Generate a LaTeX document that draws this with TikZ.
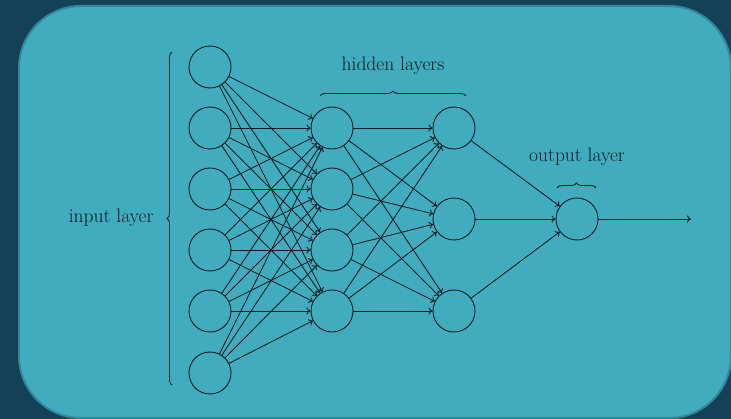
\documentclass[tikz,border=0pt]{standalone}
\usetikzlibrary{decorations.pathreplacing,arrows.meta}
\definecolor{bgdark}{RGB}{20,65,88}
\definecolor{panel}{RGB}{64,172,189}
\definecolor{panelborder}{RGB}{50,135,152}
\definecolor{ink}{RGB}{12,28,34}
\begin{document}
\begin{tikzpicture}[x=1pt,y=-1pt,
  neuron/.style={circle,draw=ink,line width=0.9pt,minimum size=42pt,inner sep=0pt},
  conn/.style={draw=ink,line width=0.85pt,-{To[length=4pt,width=7pt]}},
  lbl/.style={text=ink,font=\fontsize{19.5}{23}\selectfont},
  brc/.style={draw=ink,line width=0.85pt,decorate,decoration={brace,amplitude=5pt}}]
\fill[bgdark] (0,0) rectangle (731,419);
\useasboundingbox (0,0) rectangle (731,419);
\draw[panelborder,line width=2pt,fill=panel,rounded corners=62pt] (19,6) rectangle (731,418);
% input
\foreach \i/\y in {1/67,2/128,3/189,4/250,5/311,6/373}
  \node[neuron] (I\i) at (210,\y) {};
\foreach \i/\y in {1/128,2/189,3/250,4/311}
  \node[neuron] (A\i) at (332,\y) {};
\foreach \i/\y in {1/128,2/219,3/311}
  \node[neuron] (B\i) at (454,\y) {};
\node[neuron] (O) at (577,219) {};
\coordinate (out) at (691,219);
\foreach \i in {1,...,6}
  \foreach \j in {1,...,4}
    \draw[conn] (I\i) -- (A\j);
\foreach \i in {1,...,4}
  \foreach \j in {1,...,3}
    \draw[conn] (A\i) -- (B\j);
\foreach \i in {1,...,3}
  \draw[conn] (B\i) -- (O);
\draw[conn] (O) -- (out);
% braces
\coordinate (ib1) at (172,385);
\coordinate (ib2) at (172,52);
\draw[brc] (ib1) -- (ib2);
\node[lbl,anchor=east] (il) at (157,218) {input layer};
\coordinate (hb1) at (320,96);
\coordinate (hb2) at (466,96);
\draw[brc] (hb1) -- (hb2);
\node[lbl] (hl) at (393,66) {hidden layers};
\coordinate (ob1) at (557,188);
\coordinate (ob2) at (596,188);
\draw[brc] (ob1) -- (ob2);
\node[lbl] (ol) at (577,157) {output layer};
\end{tikzpicture}
\end{document}
